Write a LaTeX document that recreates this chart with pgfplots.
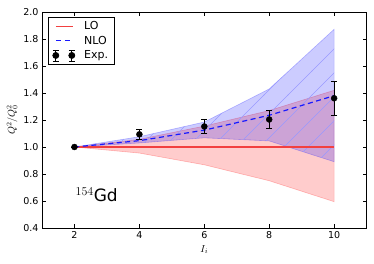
\documentclass[border=0pt]{standalone}
\usepackage{pgfplots}
\pgfplotsset{compat=1.18}
\usepackage{fontspec}
\setmainfont{DejaVu Sans}
\usetikzlibrary{patterns}
\pgfdeclarepatternformonly{widehatch}{\pgfqpoint{-1pt}{-1pt}}{\pgfqpoint{25pt}{25pt}}{\pgfqpoint{24pt}{24pt}}{%
  \pgfsetlinewidth{0.45pt}%
  \pgfpathmoveto{\pgfqpoint{-0.5pt}{-0.5pt}}%
  \pgfpathlineto{\pgfqpoint{24.5pt}{24.5pt}}%
  \pgfusepath{stroke}%
}
\definecolor{lored}{rgb}{0.95,0.25,0.25}
\definecolor{nloblue}{rgb}{0.1,0.1,1.0}
\definecolor{hatchblue}{rgb}{0.6,0.6,1.0}
\begin{document}
\begin{tikzpicture}
\path[use as bounding box] (0,0) rectangle (374pt,263pt);
\begin{axis}[
  at={(42pt,35pt)}, anchor=south west,
  scale only axis, width=324.6pt, height=216pt,
  xmin=1, xmax=11, ymin=0.4, ymax=2.0,
  xtick={2,4,6,8,10},
  ytick={0.4,0.6,0.8,1.0,1.2,1.4,1.6,1.8,2.0},
  yticklabel style={/pgf/number format/.cd, fixed, fixed zerofill, precision=1},
  /pgf/number format/assume math mode=true,
  tick label style={font=\fontsize{9.5}{11}\selectfont},
  tick align=inside,
  major tick length=4pt,
  tick style={black, line width=0.6pt},
  axis line style={line width=0.9pt},
  xlabel={$I_i$},
  ylabel={$Q^2/Q_0^2$},
  xlabel style={at={(axis description cs:0.5,-0.10)}, anchor=center, font=\normalsize},
  ylabel style={at={(axis description cs:-0.092,0.5)}, anchor=center, font=\normalsize},
  legend style={at={(axis description cs:0.0185,0.977)}, anchor=north west,
    draw=black, line width=0.8pt, font=\fontsize{11}{13}\selectfont,
    row sep=1pt, inner xsep=4pt, inner ysep=2pt},
  legend cell align=left,
  clip=true,
]
% LO band
\addplot[fill=red, fill opacity=0.2, draw=red, draw opacity=0.25, line width=0.6pt, forget plot]
  coordinates {(2,1.0) (4,1.057) (6,1.155) (8,1.27) (10,1.42)
               (10,0.595) (8,0.75) (6,0.868) (4,0.955) (2,1.0)} -- cycle;
% NLO band
\addplot[fill=blue, fill opacity=0.2, draw=blue, draw opacity=0.25, line width=0.6pt, forget plot]
  coordinates {(2,1.0) (4,1.076) (6,1.185) (8,1.43) (10,1.872)
               (10,0.891) (8,1.045) (6,1.068) (4,1.03) (2,1.0)} -- cycle;
\addplot[draw=none, pattern=widehatch, pattern color=hatchblue, forget plot]
  coordinates {(2,1.0) (4,1.076) (6,1.185) (8,1.43) (10,1.872)
               (10,0.891) (8,1.045) (6,1.068) (4,1.03) (2,1.0)} -- cycle;
% LO
\addplot[lored, line width=1.3pt, no marks,
  legend image code/.code={\draw[lored, line width=1.3pt, solid, draw opacity=1] (0pt,0pt) -- (17pt,0pt);}]
  coordinates {(2,1.0) (4,1.0) (6,1.0) (8,1.0) (10,1.0)};
\addlegendentry{\hspace{7pt}LO}
% NLO
\addplot[nloblue, line width=1.2pt, dash pattern=on 5pt off 3.5pt, no marks,
  legend image code/.code={\draw[nloblue, line width=1.2pt, dash pattern=on 5pt off 4pt] (0pt,0pt) -- (17pt,0pt);}]
  coordinates {(2,1.0) (4,1.047) (6,1.125) (8,1.235) (10,1.38)};
\addlegendentry{\hspace{7pt}NLO}
% Exp
\addplot[black, only marks, mark=*, mark size=3pt,
  error bars/.cd, y dir=both, y explicit,
  error bar style={line width=0.9pt, black},
  error mark options={rotate=90, mark size=3pt, line width=0.9pt, black},
  /pgfplots/legend image code/.code={
  \foreach \xx in {0pt,16pt}{
    \draw[black, line width=0.8pt, solid] (\xx,-5.5pt) -- (\xx,5.5pt);
    \draw[black, line width=0.8pt, solid] (\xx-3pt,-5.5pt) -- (\xx+3pt,-5.5pt);
    \draw[black, line width=0.8pt, solid] (\xx-3pt,5.5pt) -- (\xx+3pt,5.5pt);
    \fill[black] (\xx,0pt) circle (3pt);
  }}]
  coordinates {(2,1.0) +- (0,0)
               (4,1.094) +- (0,0.037)
               (6,1.152) +- (0,0.055)
               (8,1.204) +- (0,0.066)
               (10,1.361) +- (0,0.126)};
\addlegendentry{\hspace{7pt}Exp.}
\node[anchor=base west, inner sep=0pt, font=\fontsize{17}{20}\selectfont] at (axis cs:2.03,0.593) {$^{154}$Gd};
\end{axis}
\end{tikzpicture}
\end{document}
